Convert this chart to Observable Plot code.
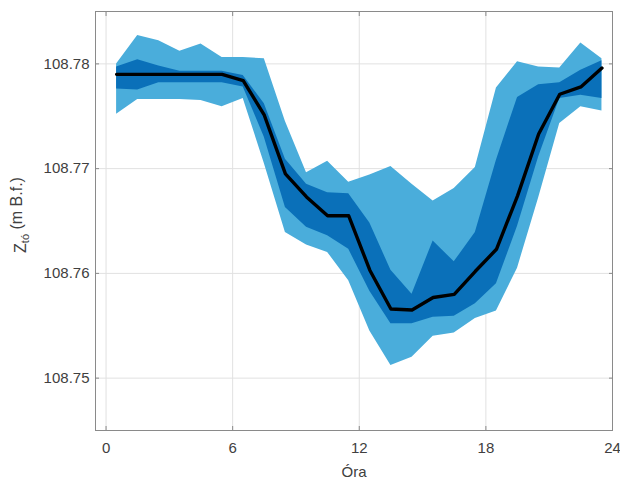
<!DOCTYPE html>
<html>
<head>
<meta charset="utf-8">
<script src="https://cdn.jsdelivr.net/npm/d3@7"></script>
<script src="https://cdn.jsdelivr.net/npm/@observablehq/plot@0.6"></script>
<style>
  body { margin: 0; background: #fff; }
  #chart svg { display: block; }
</style>
</head>
<body>
<div id="chart"></div>
<script>
// Hourly lake water level (m B.f.): median with inner and outer percentile bands
const hours = [0.5, 1.5, 2.5, 3.5, 4.5, 5.5, 6.5, 7.5, 8.5, 9.5, 10.5, 11.5,
               12.5, 13.5, 14.5, 15.5, 16.5, 17.5, 18.5, 19.5, 20.5, 21.5, 22.5, 23.5];

const median = [108.7790, 108.7790, 108.7790, 108.7790, 108.7790, 108.7790,
                108.7784, 108.7751, 108.7695, 108.7673, 108.7655, 108.7655,
                108.7603, 108.7566, 108.7565, 108.7577, 108.7580, 108.7602,
                108.7623, 108.7674, 108.7733, 108.7771, 108.7778, 108.7796];

const outerHigh = [108.7800, 108.7827, 108.7822, 108.7812, 108.7819, 108.7806,
                   108.7806, 108.7805, 108.7745, 108.7696, 108.7707, 108.7687,
                   108.7694, 108.7702, 108.7685, 108.7669, 108.7681, 108.7701,
                   108.7777, 108.7802, 108.7797, 108.7796, 108.7820, 108.7805];

const outerLow = [108.7752, 108.7766, 108.7766, 108.7766, 108.7765, 108.7759,
                  108.7767, 108.7705, 108.7639, 108.7627, 108.7620, 108.7593,
                  108.7545, 108.7512, 108.7520, 108.7540, 108.7543, 108.7557,
                  108.7564, 108.7605, 108.7672, 108.7743, 108.7759, 108.7755];

const innerHigh = [108.7797, 108.7804, 108.7798, 108.7793, 108.7793, 108.7793,
                   108.7789, 108.7762, 108.7709, 108.7685, 108.7677, 108.7676,
                   108.7648, 108.7603, 108.7580, 108.7631, 108.7611, 108.7639,
                   108.7708, 108.7768, 108.7780, 108.7782, 108.7794, 108.7803];

const innerLow = [108.7776, 108.7775, 108.7782, 108.7782, 108.7782, 108.7782,
                  108.7778, 108.7730, 108.7663, 108.7644, 108.7636, 108.7623,
                  108.7583, 108.7552, 108.7552, 108.7558, 108.7559, 108.7571,
                  108.7590, 108.7645, 108.7711, 108.7767, 108.7770, 108.7767];

const xTicks = [0, 6, 12, 18, 24];
const yTicks = [108.75, 108.76, 108.77, 108.78];

const rows = hours.map((h, i) => ({
  h,
  med: median[i],
  oLo: outerLow[i], oHi: outerHigh[i],
  iLo: innerLow[i], iHi: innerHigh[i]
}));

const axisColor = "#8a8a8a";
const gridColor = "#e1e1e1";

const chart = Plot.plot({
  width: 620,
  height: 480,
  marginLeft: 95,
  marginRight: 8,
  marginTop: 11,
  marginBottom: 50,
  style: {
    fontFamily: "'Liberation Sans', Arial, sans-serif",
    fontSize: "15px",
    color: "#404040",
    background: "#fff"
  },
  x: {domain: [-0.5, 24]},
  y: {domain: [108.745, 108.785]},
  marks: [
    Plot.gridX(xTicks, {stroke: gridColor, strokeOpacity: 1}),
    Plot.gridY(yTicks, {stroke: gridColor, strokeOpacity: 1}),
    Plot.areaY(rows, {x: "h", y1: "oLo", y2: "oHi", fill: "#4aaddb"}),
    Plot.areaY(rows, {x: "h", y1: "iLo", y2: "iHi", fill: "#0a70b9"}),
    Plot.lineY(rows, {x: "h", y: "med", stroke: "#000", strokeWidth: 3.4}),
    Plot.frame({stroke: axisColor}),
    // tick labels
    Plot.axisX(xTicks, {
      tickSize: 0, tickPadding: 12, tickFormat: d => String(d),
      label: "Óra", labelAnchor: "center", labelArrow: "none", labelOffset: 46
    }),
    Plot.axisY(yTicks, {
      tickSize: 0, tickPadding: 6, tickFormat: d => d.toFixed(2), label: null
    }),
    // inward tick marks on all four sides
    Plot.axisX(xTicks, {anchor: "bottom", tickSize: -4, stroke: axisColor, fill: "none", label: null}),
    Plot.axisX(xTicks, {anchor: "top", tickSize: -4, stroke: axisColor, fill: "none", label: null}),
    Plot.axisY(yTicks, {anchor: "left", tickSize: -4, stroke: axisColor, fill: "none", label: null}),
    Plot.axisY(yTicks, {anchor: "right", tickSize: -4, stroke: axisColor, fill: "none", label: null})
  ]
});

// y-axis title with a subscript
const svg = d3.select(chart);
const yTitle = svg.append("text")
  .attr("transform", "translate(26,215) rotate(-90)")
  .attr("text-anchor", "middle")
  .attr("fill", "#404040")
  .style("font-size", "16px");
yTitle.append("tspan").text("Z");
yTitle.append("tspan").attr("dy", "0.3em").style("font-size", "11px").text("tó");
yTitle.append("tspan").attr("dy", "-0.45em").text(" (m B.f.)");

document.getElementById("chart").append(chart);
</script>
</body>
</html>
